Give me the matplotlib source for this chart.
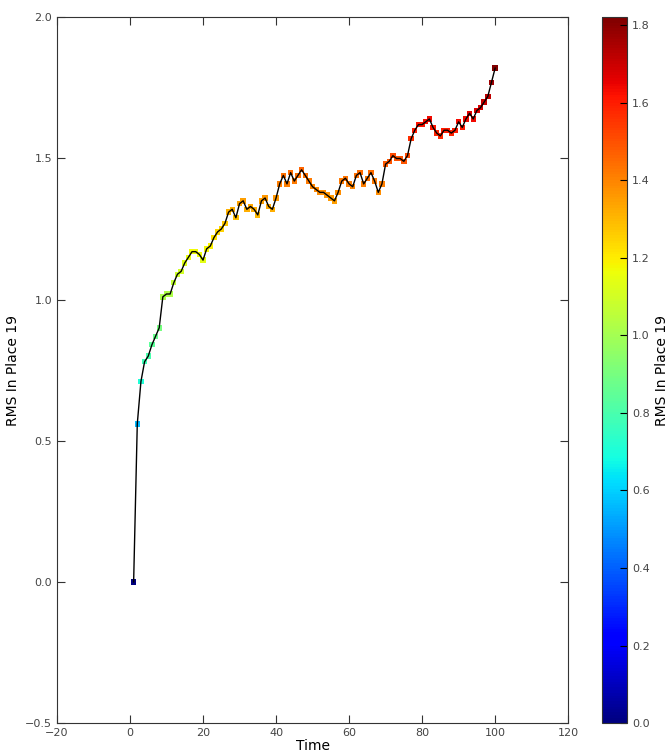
import numpy as np
import matplotlib
matplotlib.use('Agg')
import matplotlib.pyplot as plt

time = list(range(1, 101))
rms = [0.00, 0.56, 0.71, 0.78, 0.80, 0.84, 0.87, 0.90, 1.01, 1.02,
       1.02, 1.06, 1.09, 1.10, 1.13, 1.15, 1.17, 1.17, 1.16, 1.14,
       1.18, 1.19, 1.22, 1.24, 1.25, 1.27, 1.31, 1.32, 1.29, 1.34,
       1.35, 1.32, 1.33, 1.32, 1.30, 1.35, 1.36, 1.33, 1.32, 1.36,
       1.41, 1.44, 1.41, 1.45, 1.42, 1.44, 1.46, 1.44, 1.42, 1.40,
       1.39, 1.38, 1.38, 1.37, 1.36, 1.35, 1.38, 1.42, 1.43, 1.41,
       1.40, 1.44, 1.45, 1.41, 1.43, 1.45, 1.42, 1.38, 1.41, 1.48,
       1.49, 1.51, 1.50, 1.50, 1.49, 1.51, 1.57, 1.60, 1.62, 1.62,
       1.63, 1.64, 1.61, 1.59, 1.58, 1.60, 1.60, 1.59, 1.60, 1.63,
       1.61, 1.64, 1.66, 1.64, 1.67, 1.68, 1.70, 1.72, 1.77, 1.82]
label = 'RMS In Place 19'

plt.rcParams['font.family'] = 'DejaVu Sans'

fig = plt.figure(figsize=(6.7, 7.54), dpi=100)
ax = fig.add_axes([0.085, 0.041, 0.763, 0.936])
cax = fig.add_axes([0.899, 0.041, 0.037, 0.936])

sc = ax.scatter(time, rms, c=rms, cmap='jet', vmin=0, vmax=max(rms),
                marker='s', s=15, edgecolors='none', zorder=2)
ax.plot(time, rms, color='black', linewidth=1.0, zorder=3)

ax.set_xlim(-20, 120)
ax.set_ylim(-0.5, 2.0)
ax.set_xticks(np.arange(-20, 121, 20))
ax.set_yticks(np.arange(-0.5, 2.01, 0.5))
ax.set_xlabel('Time', fontsize=10, labelpad=1)
ax.set_ylabel(label, fontsize=10)
ax.tick_params(direction='in', top=True, right=True, length=6,
               labelsize=8, colors='#333333', labelcolor='#444444')
for s in ax.spines.values():
    s.set_color('#333333')

cb = fig.colorbar(sc, cax=cax)
cb.set_ticks(np.arange(0, 1.81, 0.2))
cb.ax.tick_params(direction='in', length=5, labelsize=8, labelcolor='#444444')
cb.set_label(label, fontsize=10)
cb.outline.set_edgecolor('#333333')

fig.savefig('out.png', dpi=100)
